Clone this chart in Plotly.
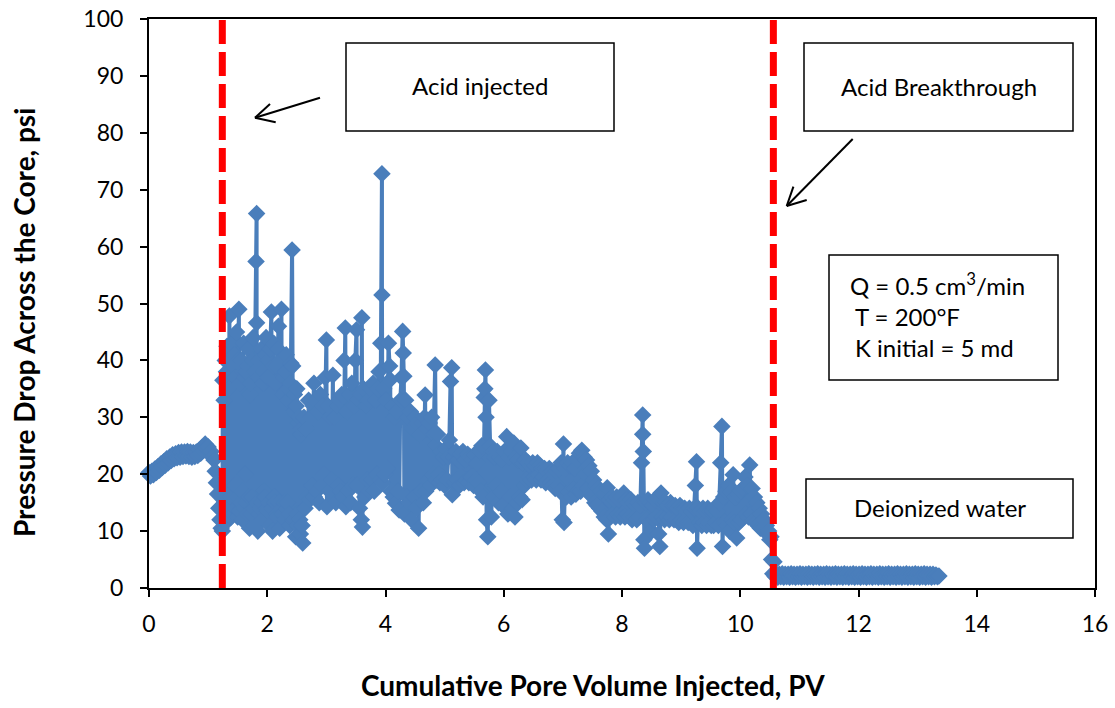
import plotly.graph_objects as go

# ---------------- data (cumulative PV, pressure drop psi) ----------------
water_phase = [
    (0.000, 20.3), (0.025, 19.7), (0.050, 20.5), (0.075, 19.9), (0.100, 20.9), (0.125, 20.3),
    (0.150, 21.3), (0.175, 20.7), (0.200, 21.8), (0.225, 21.2), (0.250, 22.2), (0.275, 21.6),
    (0.300, 22.7), (0.325, 22.0), (0.350, 23.0), (0.375, 22.4), (0.400, 23.4), (0.425, 22.7),
    (0.450, 23.6), (0.475, 22.9), (0.500, 23.8), (0.525, 23.0), (0.550, 23.9), (0.575, 23.1),
    (0.600, 23.9), (0.625, 23.2), (0.650, 24.0), (0.675, 23.1), (0.700, 23.9), (0.725, 23.0),
    (0.750, 23.8), (0.775, 23.1), (0.800, 23.9), (0.825, 23.3), (0.850, 24.2), (0.875, 23.7),
    (0.900, 24.7), (0.925, 24.2), (0.950, 25.3), (0.975, 24.6), (1.000, 24.8), (1.025, 23.8),
    (1.050, 24.0), (1.075, 23.0), (1.100, 22.5), (1.120, 20.5), (1.140, 18.5), (1.160, 16.5),
    (1.180, 14.0), (1.200, 12.0), (1.220, 10.5),
]

acid_phase_1 = [
    (1.24, 10.0), (1.25, 36.5), (1.26, 12.0), (1.27, 33.0), (1.28, 15.0), (1.29, 40.0),
    (1.30, 11.5), (1.31, 38.0), (1.32, 42.5), (1.33, 13.0), (1.34, 35.0), (1.35, 14.0),
    (1.36, 47.8), (1.37, 16.0), (1.38, 40.0), (1.39, 12.5), (1.40, 43.0), (1.41, 17.0),
    (1.42, 39.0), (1.43, 13.0), (1.44, 41.0), (1.45, 18.0), (1.46, 37.0), (1.47, 14.0),
    (1.48, 45.0), (1.49, 16.0), (1.50, 12.5), (1.51, 40.0), (1.52, 49.0), (1.53, 13.5),
    (1.54, 36.0), (1.55, 15.0), (1.56, 40.0), (1.57, 17.0), (1.58, 12.0), (1.59, 38.0),
    (1.60, 43.0), (1.61, 14.0), (1.62, 37.0), (1.63, 20.0), (1.64, 38.0), (1.65, 15.0),
    (1.66, 13.0), (1.67, 39.0), (1.68, 42.0), (1.69, 16.0), (1.70, 10.5), (1.71, 34.0),
    (1.72, 36.0), (1.73, 13.0), (1.74, 16.0), (1.75, 40.0), (1.76, 44.0), (1.77, 14.0),
    (1.78, 11.0), (1.79, 38.0), (1.81, 57.4), (1.82, 65.8), (1.82, 46.6), (1.83, 15.0),
    (1.84, 10.0), (1.85, 37.0), (1.86, 40.0), (1.87, 13.0), (1.88, 14.0), (1.89, 39.0),
    (1.90, 42.0), (1.91, 15.0), (1.92, 12.0), (1.93, 36.0), (1.94, 38.0), (1.95, 17.0),
    (1.96, 16.0), (1.97, 41.0), (1.98, 44.0), (1.99, 14.0), (2.00, 13.5), (2.01, 37.0),
    (2.02, 40.0), (2.03, 15.0), (2.04, 11.0), (2.05, 42.0), (2.07, 48.5), (2.08, 14.0),
    (2.09, 10.0), (2.10, 39.0), (2.11, 43.0), (2.12, 16.0), (2.13, 15.0), (2.14, 36.0),
    (2.15, 39.0), (2.16, 13.0), (2.17, 12.5), (2.18, 42.0), (2.19, 46.0), (2.20, 15.0),
    (2.21, 10.5), (2.22, 40.0), (2.24, 49.0), (2.25, 14.0), (2.26, 13.0), (2.27, 34.0),
    (2.28, 37.0), (2.29, 15.0), (2.30, 12.0), (2.31, 38.0), (2.32, 41.0), (2.33, 14.0),
    (2.34, 15.0), (2.35, 33.0), (2.36, 35.0), (2.37, 13.0), (2.38, 11.0), (2.39, 36.0),
    (2.40, 39.5), (2.42, 59.4), (2.43, 39.0), (2.44, 12.0), (2.45, 31.0), (2.46, 34.0),
    (2.47, 12.0), (2.48, 9.0), (2.49, 32.0), (2.50, 35.0), (2.51, 13.0), (2.52, 11.0),
    (2.53, 29.0), (2.54, 30.0), (2.55, 12.0), (2.56, 9.5), (2.57, 27.0), (2.58, 28.0),
    (2.59, 11.0), (2.60, 7.9),
]

acid_phase_2 = [
    (2.62, 30.0), (2.64, 14.0), (2.66, 28.0), (2.68, 16.0), (2.70, 33.0), (2.72, 15.5),
    (2.74, 30.0), (2.76, 18.0), (2.78, 32.0), (2.79, 36.0), (2.80, 16.0), (2.82, 33.0),
    (2.84, 17.0), (2.86, 31.0), (2.88, 15.0), (2.90, 34.0), (2.92, 18.0), (2.94, 32.0),
    (2.96, 20.0), (2.98, 37.0), (3.00, 43.6), (3.01, 14.3), (3.03, 32.0), (3.05, 17.0),
    (3.07, 30.0), (3.09, 19.0), (3.11, 37.4), (3.12, 16.0), (3.14, 30.0), (3.16, 15.0),
    (3.18, 32.0), (3.20, 18.0), (3.22, 33.0), (3.24, 17.0), (3.26, 34.0), (3.28, 16.0),
    (3.30, 40.0), (3.32, 45.7), (3.33, 14.3), (3.35, 31.0), (3.37, 17.0), (3.39, 34.0),
    (3.41, 15.0), (3.43, 36.0), (3.45, 18.0), (3.47, 32.0), (3.49, 40.0), (3.51, 45.4),
    (3.52, 18.0), (3.54, 33.0), (3.56, 14.0), (3.58, 34.0), (3.59, 12.0), (3.60, 47.5),
    (3.61, 10.7), (3.63, 35.0), (3.65, 16.0), (3.67, 32.0), (3.69, 19.0), (3.71, 33.0),
    (3.73, 17.0), (3.75, 35.0), (3.77, 19.0), (3.79, 36.0), (3.81, 17.0), (3.83, 33.0),
    (3.85, 20.0), (3.87, 35.0), (3.89, 38.0), (3.91, 19.0), (3.92, 43.0), (3.94, 72.8),
    (3.94, 51.5), (3.95, 18.5), (3.97, 35.0), (3.99, 20.0), (4.01, 33.0), (4.03, 21.0),
    (4.05, 43.0), (4.07, 39.0), (4.08, 36.6), (4.09, 17.0), (4.11, 32.0), (4.13, 16.0),
    (4.15, 30.0), (4.17, 14.9), (4.19, 31.0), (4.21, 17.0), (4.23, 13.7), (4.25, 33.0),
    (4.27, 37.0), (4.29, 45.1), (4.30, 41.3), (4.31, 37.2), (4.32, 13.0), (4.34, 33.0),
    (4.36, 16.0), (4.38, 30.0), (4.40, 15.0), (4.42, 31.0), (4.44, 12.0), (4.46, 28.0),
    (4.48, 16.0), (4.50, 30.0), (4.52, 14.0), (4.54, 29.0), (4.56, 10.5), (4.58, 27.0),
    (4.60, 17.0), (4.62, 29.0), (4.64, 15.0), (4.66, 30.0), (4.67, 33.9), (4.68, 17.0),
    (4.70, 28.0), (4.72, 19.0), (4.74, 29.0), (4.76, 18.0), (4.78, 30.0), (4.80, 20.0),
    (4.82, 27.0), (4.84, 39.2), (4.85, 25.0), (4.86, 19.0), (4.88, 27.0), (4.90, 20.0),
]

acid_phase_3 = [
    (4.92, 18.5), (4.94, 24.0), (4.96, 19.0), (4.98, 23.0), (5.00, 18.0), (5.02, 24.5),
    (5.04, 19.0), (5.06, 23.0), (5.08, 26.0), (5.10, 36.3), (5.12, 38.7), (5.13, 16.4),
    (5.15, 23.0), (5.17, 18.5), (5.19, 24.0), (5.21, 19.0), (5.23, 22.5), (5.25, 18.0),
    (5.27, 23.5), (5.29, 19.5), (5.31, 24.0), (5.33, 18.5), (5.35, 22.5), (5.37, 19.0),
    (5.39, 23.5), (5.41, 18.5), (5.43, 23.0), (5.45, 19.5), (5.47, 22.5), (5.49, 18.0),
    (5.51, 23.5), (5.53, 19.0), (5.55, 22.0), (5.57, 18.5), (5.59, 24.0), (5.61, 17.0),
    (5.63, 25.0), (5.65, 16.0), (5.67, 33.5), (5.68, 35.0), (5.69, 38.3), (5.70, 30.0),
    (5.71, 12.0), (5.73, 9.0), (5.75, 33.0), (5.77, 25.0), (5.79, 12.5), (5.81, 24.0),
    (5.83, 16.0), (5.85, 23.0), (5.87, 18.0), (5.89, 24.0), (5.91, 15.0), (5.93, 23.0),
    (5.95, 17.0), (5.97, 22.5), (5.99, 14.5), (6.01, 24.0), (6.03, 14.0), (6.05, 26.6),
    (6.07, 13.0), (6.09, 23.0), (6.11, 16.0), (6.13, 24.0), (6.15, 14.0), (6.17, 25.5),
    (6.19, 12.5), (6.21, 23.0), (6.23, 15.0), (6.25, 22.5), (6.27, 16.0), (6.29, 24.6),
    (6.31, 15.5), (6.33, 22.0), (6.35, 18.0), (6.37, 22.5), (6.39, 19.0), (6.41, 22.0),
    (6.43, 19.5), (6.45, 21.5), (6.47, 19.0), (6.49, 22.0), (6.51, 19.5), (6.53, 21.5),
    (6.55, 19.0), (6.57, 22.0), (6.59, 20.0), (6.61, 21.5), (6.63, 19.0), (6.65, 21.0),
    (6.67, 19.5), (6.69, 21.0), (6.71, 18.5), (6.73, 20.5), (6.75, 19.0), (6.77, 21.0),
    (6.79, 18.5), (6.81, 20.5), (6.83, 18.0), (6.85, 20.0), (6.87, 17.5), (6.89, 20.5),
    (6.91, 18.0), (6.93, 21.0), (6.95, 17.0), (6.97, 22.0), (6.99, 12.0), (7.01, 25.3),
    (7.02, 11.5), (7.04, 21.0), (7.06, 16.0), (7.08, 22.0), (7.10, 17.0), (7.12, 21.5),
    (7.14, 16.0), (7.16, 22.0), (7.18, 17.5), (7.20, 21.0), (7.22, 16.5), (7.24, 22.5),
    (7.26, 17.0), (7.28, 23.7), (7.30, 17.0), (7.32, 24.2), (7.34, 18.0), (7.36, 23.0),
]

acid_phase_4 = [
    (7.38, 20.0), (7.40, 22.5), (7.42, 17.5), (7.44, 21.5), (7.46, 16.5), (7.48, 20.5),
    (7.50, 16.0), (7.52, 19.0), (7.54, 15.0), (7.56, 18.0), (7.58, 14.5), (7.60, 17.5),
    (7.62, 14.0), (7.64, 17.0), (7.66, 13.5), (7.68, 16.5), (7.70, 12.5), (7.72, 16.5),
    (7.74, 12.0), (7.75, 17.6), (7.77, 9.5), (7.79, 15.5), (7.81, 12.5), (7.83, 16.0),
    (7.85, 13.0), (7.87, 15.5), (7.89, 12.5), (7.91, 16.0), (7.93, 13.0), (7.95, 15.5),
    (7.97, 12.5), (7.99, 16.0), (8.01, 13.0), (8.03, 16.7), (8.05, 12.5), (8.07, 15.5),
    (8.09, 13.0), (8.11, 15.0), (8.13, 12.5), (8.15, 15.5), (8.17, 12.0), (8.19, 15.0),
    (8.21, 12.5), (8.23, 14.5), (8.25, 12.0), (8.27, 15.0), (8.29, 12.5), (8.31, 14.5),
    (8.33, 22.0), (8.35, 30.4), (8.35, 27.0), (8.36, 24.0), (8.37, 8.5), (8.38, 7.0),
    (8.40, 15.0), (8.42, 12.0), (8.44, 15.5), (8.46, 11.5), (8.48, 15.0), (8.50, 10.0),
    (8.52, 14.5), (8.54, 12.0), (8.56, 15.5), (8.58, 12.5), (8.60, 16.0), (8.62, 9.5),
    (8.64, 7.3), (8.66, 16.7), (8.68, 12.5), (8.70, 15.0), (8.72, 12.0), (8.74, 15.0),
    (8.76, 12.5), (8.78, 14.5), (8.80, 12.0), (8.82, 15.0), (8.84, 12.5), (8.86, 14.5),
    (8.88, 12.0), (8.90, 14.5), (8.92, 12.0), (8.94, 14.0), (8.96, 11.5), (8.98, 14.5),
    (9.00, 12.0), (9.02, 14.0), (9.04, 11.5), (9.06, 14.0), (9.08, 12.0), (9.10, 13.5),
    (9.12, 11.5), (9.14, 14.0), (9.16, 11.5), (9.18, 13.5), (9.20, 11.0), (9.22, 14.0),
    (9.24, 18.0), (9.26, 22.2), (9.27, 7.0), (9.29, 14.0), (9.31, 11.5), (9.33, 13.5),
    (9.35, 11.0), (9.37, 14.0), (9.39, 11.5), (9.41, 13.5), (9.43, 11.0), (9.45, 14.0),
    (9.47, 11.5), (9.49, 13.5), (9.51, 11.0), (9.53, 13.5), (9.55, 11.0), (9.57, 14.0),
    (9.59, 11.5), (9.61, 13.5), (9.63, 11.0), (9.65, 15.0), (9.67, 22.0), (9.69, 28.4),
    (9.70, 7.3), (9.72, 16.0), (9.74, 11.5), (9.76, 17.0), (9.78, 11.0), (9.80, 18.0),
    (9.82, 10.0), (9.84, 17.0), (9.86, 12.0), (9.88, 19.9), (9.90, 11.5), (9.92, 16.0),
    (9.94, 8.8), (9.96, 16.5), (9.98, 11.5), (10.00, 17.0), (10.02, 12.0), (10.04, 17.5),
    (10.06, 12.5), (10.08, 19.5), (10.10, 13.0), (10.12, 18.0), (10.14, 12.5), (10.16, 21.6),
    (10.18, 13.0), (10.20, 17.5), (10.22, 12.0), (10.24, 16.0), (10.26, 11.5), (10.28, 15.0),
    (10.30, 11.0), (10.32, 14.0), (10.34, 10.5), (10.36, 13.0), (10.38, 10.5), (10.40, 12.0),
    (10.42, 10.0), (10.44, 11.0), (10.46, 9.5), (10.48, 10.0), (10.50, 8.5), (10.52, 9.0),
    (10.53, 5.0), (10.55, 2.5), (10.57, 4.6), (10.59, 2.0),
]

water_postflush = [
    (10.610, 2.4), (10.635, 1.9), (10.660, 2.4), (10.685, 2.0), (10.710, 2.5), (10.735, 1.9),
    (10.760, 2.4), (10.785, 2.0), (10.810, 2.4), (10.835, 1.9), (10.860, 2.5), (10.885, 2.0),
    (10.910, 2.4), (10.935, 1.9), (10.960, 2.4), (10.985, 2.0), (11.010, 2.5), (11.035, 1.9),
    (11.060, 2.4), (11.085, 2.0), (11.110, 2.4), (11.135, 1.9), (11.160, 2.5), (11.185, 2.0),
    (11.210, 2.4), (11.235, 1.9), (11.260, 2.4), (11.285, 2.0), (11.310, 2.5), (11.335, 1.9),
    (11.360, 2.4), (11.385, 2.0), (11.410, 2.4), (11.435, 1.9), (11.460, 2.5), (11.485, 2.0),
    (11.510, 2.4), (11.535, 1.9), (11.560, 2.4), (11.585, 2.0), (11.610, 2.5), (11.635, 1.9),
    (11.660, 2.4), (11.685, 2.0), (11.710, 2.4), (11.735, 1.9), (11.760, 2.5), (11.785, 2.0),
    (11.810, 2.4), (11.835, 1.9), (11.860, 2.4), (11.885, 2.0), (11.910, 2.5), (11.935, 1.9),
    (11.960, 2.4), (11.985, 2.0), (12.010, 2.4), (12.035, 1.9), (12.060, 2.5), (12.085, 2.0),
    (12.110, 2.4), (12.135, 1.9), (12.160, 2.4), (12.185, 2.0), (12.210, 2.5), (12.235, 1.9),
    (12.260, 2.4), (12.285, 2.0), (12.310, 2.4), (12.335, 1.9), (12.360, 2.5), (12.385, 2.0),
    (12.410, 2.4), (12.435, 1.9), (12.460, 2.4), (12.485, 2.0), (12.510, 2.5), (12.535, 1.9),
    (12.560, 2.4), (12.585, 2.0), (12.610, 2.4), (12.635, 1.9), (12.660, 2.5), (12.685, 2.0),
    (12.710, 2.4), (12.735, 1.9), (12.760, 2.4), (12.785, 2.0), (12.810, 2.5), (12.835, 1.9),
    (12.860, 2.4), (12.885, 2.0), (12.910, 2.4), (12.935, 1.9), (12.960, 2.5), (12.985, 2.0),
    (13.010, 2.4), (13.035, 1.9), (13.060, 2.4), (13.085, 2.0), (13.110, 2.5), (13.135, 1.9),
    (13.160, 2.4), (13.185, 2.0), (13.210, 2.4), (13.235, 1.9), (13.260, 2.4), (13.285, 2.0),
    (13.310, 2.3), (13.335, 2.0), (13.360, 2.1),
]

acid_start_pv = 1.24
breakthrough_pv = 10.56

x_ticks = [0, 2, 4, 6, 8, 10, 12, 14, 16]
y_ticks = [0, 10, 20, 30, 40, 50, 60, 70, 80, 90, 100]

segments = [water_phase, acid_phase_1, acid_phase_2, acid_phase_3, acid_phase_4, water_postflush]
pv = [p for seg in segments for p, _ in seg]
dp = [d for seg in segments for _, d in seg]

# ---------------- layout geometry (pixels) ----------------
W_FIG, H_FIG = 1115, 708
L, T, R, B = 149, 19, 20, 120
PW, PH = W_FIG - L - R, H_FIG - T - B


def px(xp):
    return (xp - L) / PW


def py(yp):
    return (T + PH - yp) / PH


BLUE = "#4A7EBB"
FONT = "Lato"

fig = go.Figure()
fig.add_trace(go.Scatter(
    x=pv, y=dp, mode="lines+markers",
    line=dict(color=BLUE, width=4),
    marker=dict(symbol="diamond", size=13.5, color=BLUE, line=dict(width=0)),
    showlegend=False, hoverinfo="x+y", cliponaxis=False,
))

axis_common = dict(
    showline=True, linecolor="black", linewidth=2, mirror=True,
    ticks="outside", ticklen=7, tickwidth=2, tickcolor="black",
    showgrid=False, zeroline=False, automargin=False,
    tickfont=dict(family=FONT, size=23, color="black"),
)
fig.update_xaxes(range=[0, 16], tickmode="array", tickvals=x_ticks, ticklabelstandoff=7, **axis_common)
fig.update_yaxes(range=[0, 100], tickmode="array", tickvals=y_ticks, ticklabelstandoff=12, **axis_common)

shapes = []
for xv in (acid_start_pv, breakthrough_pv):
    shapes.append(dict(type="line", xref="x", yref="y", x0=xv, x1=xv, y0=0, y1=100,
                       line=dict(color="#FF0000", width=7, dash="24px,8px"), layer="above"))

# text boxes (pixel corners: left, right, top, bottom)
boxes = [
    (346, 614, 43, 131),
    (804, 1073, 43, 131),
    (829, 1058, 255, 380),
    (806, 1073, 479, 538),
]
for x0, x1, y0, y1 in boxes:
    shapes.append(dict(type="rect", xref="paper", yref="paper",
                       x0=px(x0), x1=px(x1), y0=py(y1), y1=py(y0),
                       line=dict(color="black", width=1.5), fillcolor="white", layer="above"))

# arrows: shaft (tail -> head) plus two barbs from the head
arrows = [
    ((320, 97.7), (255, 117.7), [(15, -13.7), (20.7, 4.6)]),
    ((852.7, 139), (786.7, 206), [(6.7, -19.3), (20, -6)]),
]
for (tx, ty), (hx, hy), barbs in arrows:
    shapes.append(dict(type="line", xref="paper", yref="paper",
                       x0=px(tx), y0=py(ty), x1=px(hx), y1=py(hy),
                       line=dict(color="black", width=2), layer="above"))
    for bx, by in barbs:
        shapes.append(dict(type="line", xref="paper", yref="paper",
                           x0=px(hx), y0=py(hy), x1=px(hx + bx), y1=py(hy + by),
                           line=dict(color="black", width=2), layer="above"))

txt_font = dict(family=FONT, size=24, color="black")
annotations = [
    dict(text="Acid injected", x=px(480), y=py(85), xanchor="center", yanchor="middle"),
    dict(text="Acid Breakthrough", x=px(938.5), y=py(86), xanchor="center", yanchor="middle"),
    dict(text="Q = 0.5 cm<sup>3</sup>/min", x=px(848), y=py(284), xanchor="left", yanchor="middle"),
    dict(text="T = 200°F", x=px(853), y=py(316), xanchor="left", yanchor="middle"),
    dict(text="K initial = 5 md", x=px(853), y=py(348), xanchor="left", yanchor="middle"),
    dict(text="Deionized water", x=px(940), y=py(507), xanchor="center", yanchor="middle"),
]
for a in annotations:
    a.update(xref="paper", yref="paper", showarrow=False, font=txt_font)

title_font = dict(family=FONT, size=28, color="black")
annotations += [
    dict(text="<b>Cumulative Pore Volume Injected, PV</b>", x=px(593), y=py(685),
         xref="paper", yref="paper", showarrow=False, xanchor="center", yanchor="middle",
         font=title_font),
    dict(text="<b>Pressure Drop Across the Core, psi</b>", x=px(24), y=py(323),
         xref="paper", yref="paper", showarrow=False, xanchor="center", yanchor="middle",
         textangle=-90, font=title_font),
]

fig.update_layout(
    width=W_FIG, height=H_FIG,
    margin=dict(l=L, r=R, t=T, b=B),
    paper_bgcolor="white", plot_bgcolor="white",
    font=dict(family=FONT, color="black"),
    shapes=shapes, annotations=annotations,
    showlegend=False,
)

fig.write_html("out.html")
